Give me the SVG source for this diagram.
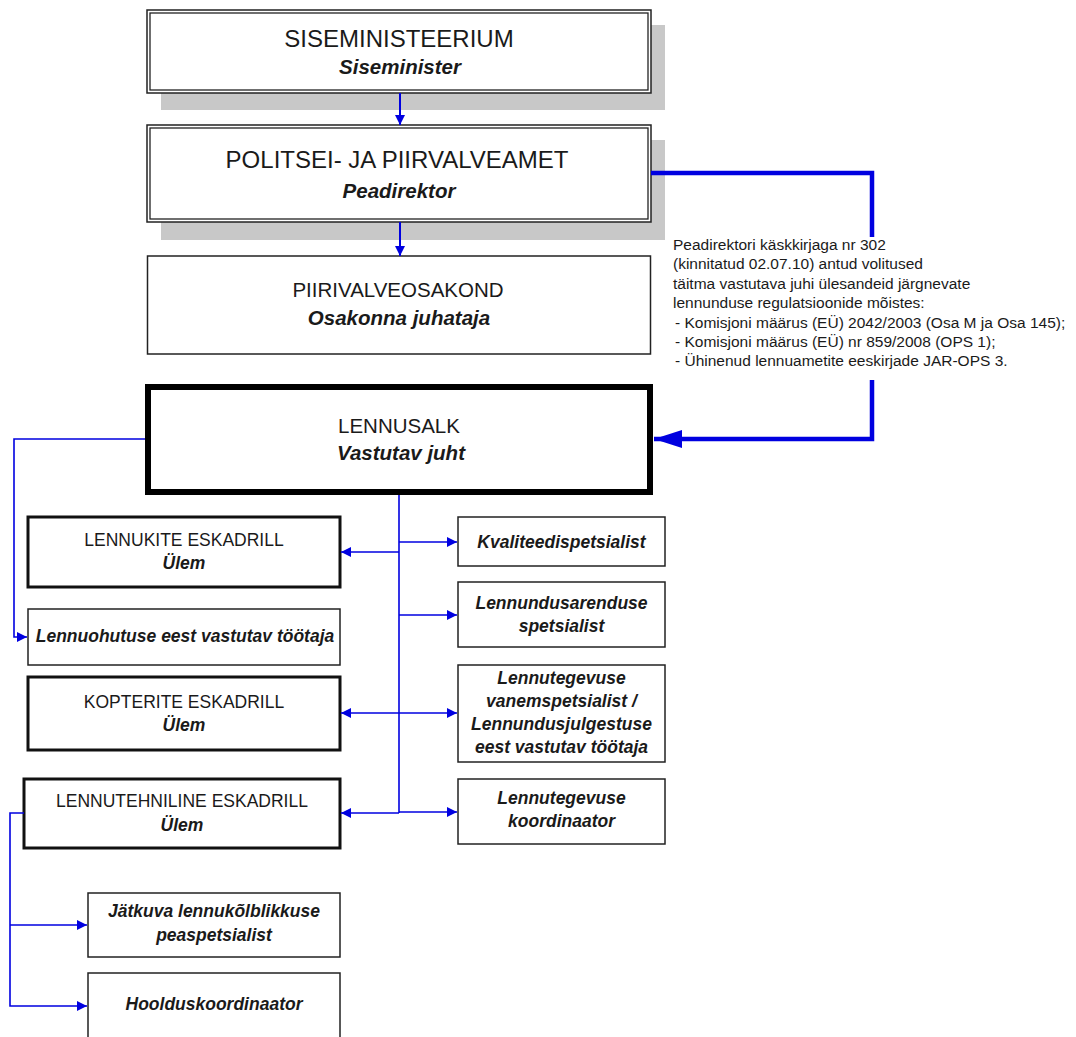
<svg xmlns="http://www.w3.org/2000/svg" width="1076" height="1037" viewBox="0 0 1076 1037">
<defs>
<style>
text{font-family:"Liberation Sans",Arial,sans-serif;fill:#1a1a1a;text-anchor:middle}
.t24{font-size:24px}
.t20{font-size:20.5px}
.t17{font-size:17.5px}
.bi20{font-size:20.5px;font-weight:bold;font-style:italic}
.bi17{font-size:17.5px;font-weight:bold;font-style:italic}
.note{font-size:15.5px;text-anchor:start}
.shadow{fill:#c8c8c8}
.box{fill:#fff;stroke:#222;stroke-width:1.5}
.dbl{fill:none;stroke:#222;stroke-width:1.3}
.esk{fill:#fff;stroke:#111;stroke-width:3}
.main{fill:#fff;stroke:#000;stroke-width:6}
.c{fill:none;stroke:#0000e0;stroke-width:1.6}
.c2{fill:none;stroke:#0000e0;stroke-width:2}
.ck{fill:none;stroke:#0000e0;stroke-width:4.5}
</style>
<marker id="a" markerUnits="userSpaceOnUse" markerWidth="10" markerHeight="10" refX="10" refY="5" orient="auto"><path d="M0,0 L10,5 L0,10 z" fill="#0000e0"/></marker>
<marker id="ab" markerUnits="userSpaceOnUse" markerWidth="28" markerHeight="18" refX="28" refY="9" orient="auto"><path d="M0,0 L28,9 L0,18 z" fill="#0000e0"/></marker>
</defs>
<rect width="1076" height="1037" fill="#fff"/>

<g id="siseministeerium">
<rect class="shadow" x="161" y="25" width="504" height="85"/>
<rect class="box" x="147" y="10" width="504" height="83"/>
<rect class="dbl" x="150" y="13" width="498" height="77"/>
<text class="t24" x="399" y="47">SISEMINISTEERIUM</text>
<text class="bi20" x="400" y="74">Siseminister</text>
</g>

<g id="ppa">
<rect class="shadow" x="161" y="140" width="504" height="100"/>
<rect class="box" x="147" y="125" width="504" height="97"/>
<rect class="dbl" x="150" y="128" width="498" height="91"/>
<text class="t24" x="397" y="168">POLITSEI- JA PIIRVALVEAMET</text>
<text class="bi20" x="399" y="198">Peadirektor</text>
</g>

<g id="piirivalveosakond">
<rect class="box" x="147.5" y="256" width="503" height="98"/>
<text class="t20" x="398" y="297">PIIRIVALVEOSAKOND</text>
<text class="bi20" x="399" y="325">Osakonna juhataja</text>
</g>

<g id="lennusalk">
<rect class="main" x="148" y="387" width="502" height="105"/>
<text class="t20" x="399" y="433">LENNUSALK</text>
<text class="bi20" x="401" y="460">Vastutav juht</text>
</g>

<g id="lennukite">
<rect class="esk" x="28" y="517" width="312" height="70"/>
<text class="t17" x="184" y="546">LENNUKITE ESKADRILL</text>
<text class="bi17" x="184" y="569">Ülem</text>
</g>

<g id="kvaliteet">
<rect class="box" x="458" y="517" width="207" height="49"/>
<text class="bi17" x="561.5" y="548">Kvaliteedispetsialist</text>
</g>

<g id="arendus">
<rect class="box" x="458" y="582" width="207" height="65"/>
<text class="bi17" x="561.5" y="609">Lennundusarenduse</text>
<text class="bi17" x="561.5" y="632">spetsialist</text>
</g>

<g id="ohutus">
<rect class="box" x="28" y="609" width="312" height="56"/>
<text class="bi17" x="185" y="642">Lennuohutuse eest vastutav töötaja</text>
</g>

<g id="kopterite">
<rect class="esk" x="28" y="677" width="312" height="73"/>
<text class="t17" x="184" y="708">KOPTERITE ESKADRILL</text>
<text class="bi17" x="184" y="731">Ülem</text>
</g>

<g id="vanemspetsialist">
<rect class="box" x="458" y="665" width="207" height="97"/>
<text class="bi17" x="561.5" y="684">Lennutegevuse</text>
<text class="bi17" x="561.5" y="707">vanemspetsialist /</text>
<text class="bi17" x="561.5" y="730">Lennundusjulgestuse</text>
<text class="bi17" x="561.5" y="753">eest vastutav töötaja</text>
</g>

<g id="lennutehniline">
<rect class="esk" x="24" y="779" width="316" height="69"/>
<text class="t17" x="182" y="807">LENNUTEHNILINE ESKADRILL</text>
<text class="bi17" x="182" y="831">Ülem</text>
</g>

<g id="koordinaator">
<rect class="box" x="458" y="779" width="207" height="65"/>
<text class="bi17" x="561.5" y="804">Lennutegevuse</text>
<text class="bi17" x="561.5" y="827">koordinaator</text>
</g>

<g id="jatkuva">
<rect class="box" x="88" y="893" width="252" height="64"/>
<text class="bi17" x="214" y="917">Jätkuva lennukõlblikkuse</text>
<text class="bi17" x="214" y="941">peaspetsialist</text>
</g>

<g id="hooldus">
<rect class="box" x="88" y="973" width="252" height="80"/>
<text class="bi17" x="214" y="1010">Hoolduskoordinaator</text>
</g>

<g id="connectors">
<path class="c2" d="M400,93 V125" marker-end="url(#a)"/>
<path class="c2" d="M400,222 V256" marker-end="url(#a)"/>
<path class="ck" d="M651,173 H872 V439 H654" marker-end="url(#ab)"/>
<path class="c" d="M399,495 V813"/>
<path class="c" d="M399,552 H341" marker-end="url(#a)"/>
<path class="c" d="M399,542 H457" marker-end="url(#a)"/>
<path class="c" d="M399,615 H457" marker-end="url(#a)"/>
<path class="c" d="M399,713 H341" marker-end="url(#a)"/>
<path class="c" d="M399,713 H457" marker-end="url(#a)"/>
<path class="c" d="M399,813 H341" marker-end="url(#a)"/>
<path class="c" d="M399,812 H457" marker-end="url(#a)"/>
<path class="c" d="M145,439 H14 V637 H27" marker-end="url(#a)"/>
<path class="c" d="M24,813 H10 V1006 H87" marker-end="url(#a)"/>
<path class="c" d="M10,925 H87" marker-end="url(#a)"/>
</g>

<g id="annotation">
<rect x="667" y="237" width="406" height="143" fill="#fff"/>
<text class="note" x="673" y="250">Peadirektori käskkirjaga nr 302</text>
<text class="note" x="673" y="269">(kinnitatud 02.07.10) antud volitused</text>
<text class="note" x="673" y="289">täitma vastutava juhi ülesandeid järgnevate</text>
<text class="note" x="673" y="308">lennunduse regulatsioonide mõistes:</text>
<text class="note" x="675" y="328">- Komisjoni määrus (EÜ) 2042/2003 (Osa M ja Osa 145);</text>
<text class="note" x="675" y="347">- Komisjoni määrus (EÜ) nr 859/2008 (OPS 1);</text>
<text class="note" x="675" y="366">- Ühinenud lennuametite eeskirjade JAR-OPS 3.</text>
</g>
</svg>
